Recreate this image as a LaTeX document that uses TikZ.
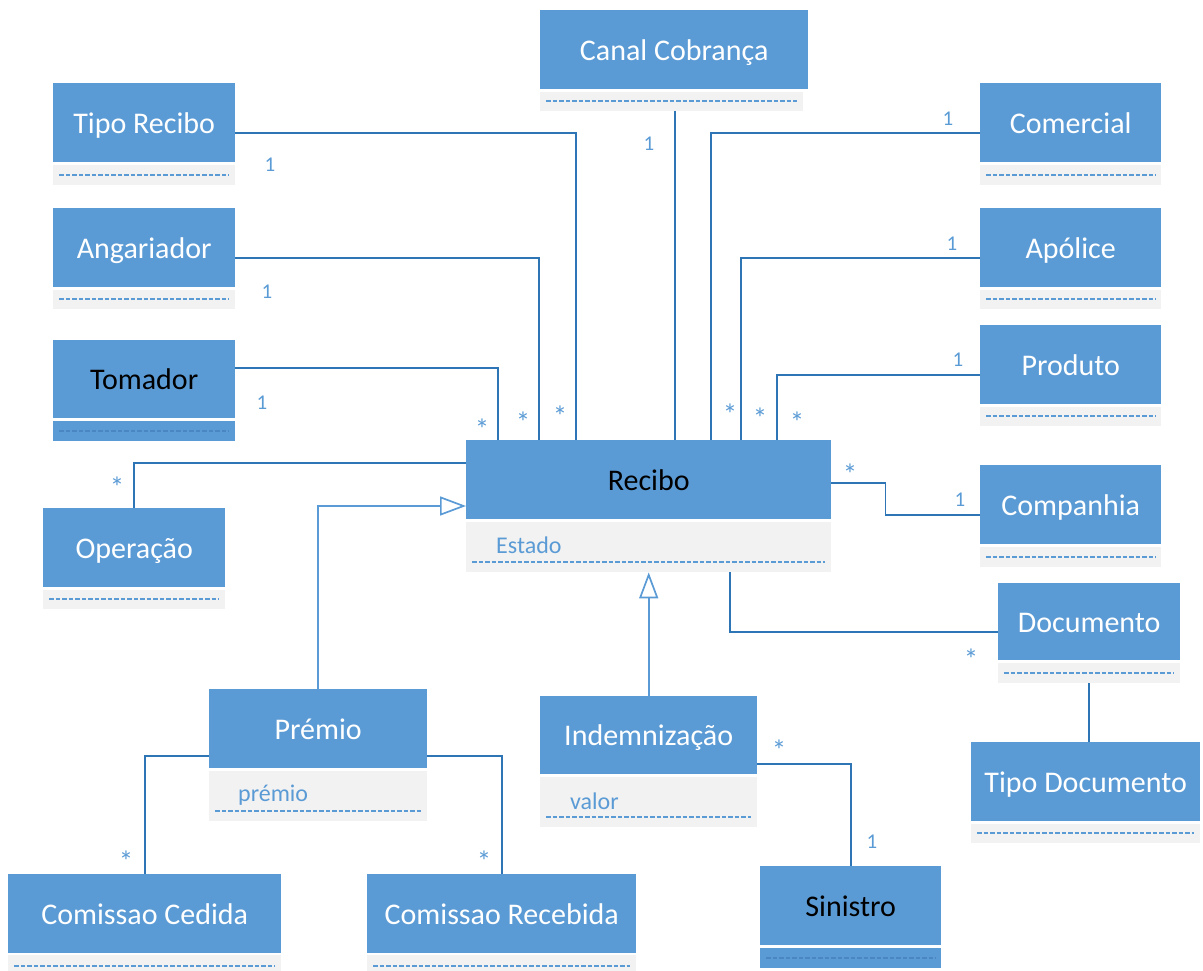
\documentclass[tikz,border=0pt]{standalone}
\usepackage{fontspec}
\setmainfont{Carlito}
\usetikzlibrary{arrows.meta}
\definecolor{umlblue}{HTML}{5B9BD5}
\definecolor{umlgrey}{HTML}{F2F2F2}
\definecolor{assocblue}{HTML}{2E75B6}
\definecolor{sepdark}{HTML}{4A86C2}
\newcommand\sepline[2][umlblue]{%
  \draw[sep, draw=#1] ([xshift=6pt,yshift=10pt]#2.south west) -- ([xshift=-6pt,yshift=10pt]#2.south east);}
\begin{document}
\begin{tikzpicture}[x=1pt,y=-1pt,
  hdr/.style={rectangle, fill=umlblue, inner sep=0pt, anchor=north west, text=white,
    font=\fontsize{30}{34}\selectfont, text height=22pt, text depth=1pt},
  hdrdark/.style={hdr, text=black},
  cmp/.style={rectangle, fill=umlgrey, inner sep=0pt, anchor=north west},
  cmpblue/.style={cmp, fill=umlblue},
  attr/.style={anchor=west, text=umlblue, inner sep=0pt, font=\fontsize{24}{28}\selectfont},
  assocline/.style={draw=assocblue, line width=1.7pt},
  genline/.style={draw=umlblue, line width=1.7pt,
    -{Triangle[open, length=26pt, width=19pt, line width=1.7pt]}},
  sep/.style={line width=1.9pt, dash pattern=on 4.5pt off 2pt},
  mstar/.style={anchor=base, text=umlblue, inner sep=0pt, font=\fontsize{29}{32}\selectfont},
  mone/.style={anchor=base, text=umlblue, inner sep=0pt, font=\fontsize{21}{24}\selectfont}]

\useasboundingbox (0,0) rectangle (1203,971);

% ---- classes: header + attribute compartment ----
\node[hdr, minimum width=268pt, minimum height=79pt] (canal) at (540,10) {Canal Cobrança};
\node[cmp, minimum width=263pt, minimum height=19pt] (canalc) at (540,92) {};
\sepline{canalc}

\node[hdr, minimum width=182pt, minimum height=79pt] (tiporec) at (53,83) {Tipo Recibo};
\node[cmp, minimum width=182pt, minimum height=20pt] (tiporecc) at (53,165) {};
\sepline{tiporecc}

\node[hdr, minimum width=182pt, minimum height=79pt] (angar) at (53,208) {Angariador};
\node[cmp, minimum width=182pt, minimum height=19pt] (angarc) at (53,290) {};
\sepline{angarc}

\node[hdrdark, minimum width=182pt, minimum height=78pt] (tomador) at (53,340) {Tomador};
\node[cmpblue, minimum width=182pt, minimum height=20pt] (tomadorc) at (53,421) {};
\sepline[sepdark]{tomadorc}

\node[hdr, minimum width=182pt, minimum height=79pt] (operacao) at (43,508) {Operação};
\node[cmp, minimum width=182pt, minimum height=19pt] (operacaoc) at (43,590) {};
\sepline{operacaoc}

\node[hdr, minimum width=181pt, minimum height=79pt] (comercial) at (980,83) {Comercial};
\node[cmp, minimum width=181pt, minimum height=20pt] (comercialc) at (980,165) {};
\sepline{comercialc}

\node[hdr, minimum width=181pt, minimum height=79pt] (apolice) at (980,208) {Apólice};
\node[cmp, minimum width=181pt, minimum height=19pt] (apolicec) at (980,290) {};
\sepline{apolicec}

\node[hdr, minimum width=181pt, minimum height=79pt] (produto) at (980,325) {Produto};
\node[cmp, minimum width=181pt, minimum height=19pt] (produtoc) at (980,407) {};
\sepline{produtoc}

\node[hdr, minimum width=181pt, minimum height=79pt] (companhia) at (980,465) {Companhia};
\node[cmp, minimum width=181pt, minimum height=20pt] (companhiac) at (980,547) {};
\sepline{companhiac}

\node[hdr, minimum width=182pt, minimum height=77pt] (documento) at (998,583) {Documento};
\node[cmp, minimum width=182pt, minimum height=20pt] (documentoc) at (998,663) {};
\sepline{documentoc}

\node[hdr, minimum width=229pt, minimum height=79pt] (tipodoc) at (971,742) {Tipo Documento};
\node[cmp, minimum width=229pt, minimum height=19pt] (tipodocc) at (971,824) {};
\sepline{tipodocc}

\node[hdrdark, minimum width=365pt, minimum height=79pt] (recibo) at (466,440) {Recibo};
\node[cmp, minimum width=365pt, minimum height=50pt] (reciboc) at (466,522) {};
\node[attr] (estado) at (496,545) {Estado};
\sepline{reciboc}

\node[hdr, minimum width=218pt, minimum height=79pt] (premio) at (209,689) {Prémio};
\node[cmp, minimum width=218pt, minimum height=50pt] (premioc) at (209,771) {};
\node[attr] (premioattr) at (238,795) {prémio};
\sepline{premioc}

\node[hdr, minimum width=217pt, minimum height=78pt] (indem) at (540,696) {Indemnização};
\node[cmp, minimum width=217pt, minimum height=50pt] (indemc) at (540,777) {};
\node[attr] (valor) at (570,801) {valor};
\sepline{indemc}

\node[hdr, minimum width=273pt, minimum height=79pt] (comced) at (8,874) {Comissao Cedida};
\node[cmp, minimum width=273pt, minimum height=16pt] (comcedc) at (8,955) {};
\draw[sep, draw=umlblue] ([xshift=6pt,yshift=5pt]comcedc.south west) -- ([xshift=-6pt,yshift=5pt]comcedc.south east);

\node[hdr, minimum width=269pt, minimum height=79pt] (comrec) at (367,874) {Comissao Recebida};
\node[cmp, minimum width=269pt, minimum height=16pt] (comrecc) at (367,955) {};
\draw[sep, draw=umlblue] ([xshift=6pt,yshift=5pt]comrecc.south west) -- ([xshift=-6pt,yshift=5pt]comrecc.south east);

\node[hdrdark, minimum width=181pt, minimum height=79pt] (sinistro) at (760,866) {Sinistro};
\node[cmpblue, minimum width=181pt, minimum height=20pt] (sinistroc) at (760,948) {};
\sepline[sepdark]{sinistroc}

% ---- associations into Recibo from above ----
\coordinate (canalin) at ([xshift=209pt]recibo.north west);
\draw[assocline] ([yshift=-10.5pt]tiporec.east) -| ([xshift=110pt]recibo.north west);
\draw[assocline] ([yshift=-10.5pt]angar.east) -| ([xshift=73pt]recibo.north west);
\draw[assocline] ([yshift=11pt]tomador.east) -| ([xshift=32pt]recibo.north west);
\draw[assocline] (canalc.south -| canalin) -- (canalin);
\draw[assocline] ([yshift=-10.5pt]comercial.west) -| ([xshift=245pt]recibo.north west);
\draw[assocline] ([yshift=-10.5pt]apolice.west) -| ([xshift=275pt]recibo.north west);
\draw[assocline] ([yshift=-10.5pt]produto.west) -| ([xshift=311pt]recibo.north west);

% ---- other associations ----
\draw[assocline] ([yshift=-23pt]recibo.north west) -| (operacao.north);
\draw[assocline] ([yshift=-3.5pt]recibo.east) -- ++(54,0) |- ([yshift=-10.5pt]companhia.west);
\draw[assocline] ([xshift=264pt]reciboc.south west) |- ([yshift=-10.5pt]documento.west);
\draw[assocline] (documentoc.south) -- (documentoc.south |- tipodoc.north);
\draw[assocline] ([yshift=-27.5pt]premio.west) -| (comced.north);
\draw[assocline] ([yshift=-27.5pt]premio.east) -| (comrec.north);
\draw[assocline] ([yshift=-29pt]indem.east) -| (sinistro.north);

% ---- generalisations ----
\draw[genline] (premio.north) |- ([yshift=-66pt]recibo.north west);
\draw[genline] (indem.north) -- (reciboc.south);

% ---- multiplicities ----
\node[mone]  (m1)  at (270,172) {1};
\node[mstar] (m2)  at (560,426) {*};
\node[mone]  (m3)  at (267,298) {1};
\node[mstar] (m4)  at (523,432) {*};
\node[mone]  (m5)  at (262,409) {1};
\node[mstar] (m6)  at (482,439) {*};
\node[mone]  (m7)  at (649,151) {1};
\node[mone]  (m8)  at (948,126) {1};
\node[mstar] (m9)  at (730,424) {*};
\node[mone]  (m10) at (952,250) {1};
\node[mstar] (m11) at (760,428) {*};
\node[mone]  (m12) at (958,366) {1};
\node[mstar] (m13) at (797,432) {*};
\node[mstar] (m14) at (117,497) {*};
\node[mstar] (m15) at (850,484) {*};
\node[mone]  (m16) at (960,506) {1};
\node[mstar] (m17) at (971,669) {*};
\node[mstar] (m18) at (126,871) {*};
\node[mstar] (m19) at (484,871) {*};
\node[mstar] (m20) at (779,760) {*};
\node[mone]  (m21) at (872,848) {1};
\end{tikzpicture}
\end{document}
